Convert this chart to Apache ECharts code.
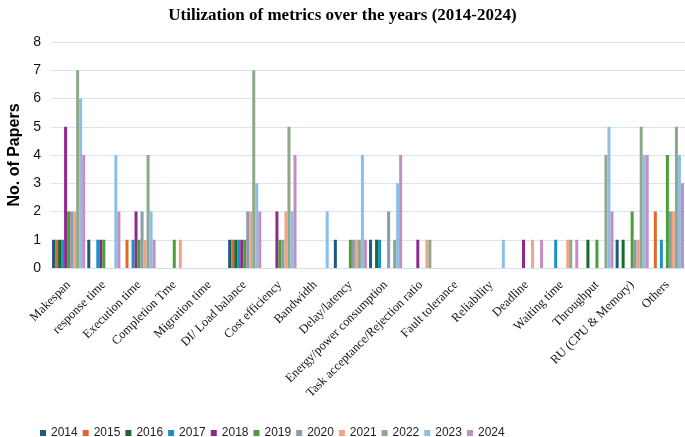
<!DOCTYPE html>
<html>
<head>
<meta charset="utf-8">
<script src="https://cdn.jsdelivr.net/npm/echarts@6/dist/echarts.min.js"></script>
<style>
html,body{margin:0;padding:0;background:#fff;}
#c{width:685px;height:437px;}
</style>
</head>
<body>
<div id="c"></div>
<script>
const categories = ["Makespan","response time","Execution time","Completion Tme","Migration time","DI/ Load balance","Cost efficiency","Bandwidth","Delay/latency","Energy/power consumption","Task acceptance/Rejection ratio","Fault tolerance","Reliability","Deadline","Waiting time","Throughput","RU (CPU & Memory)","Others"];
const years = ["2014","2015","2016","2017","2018","2019","2020","2021","2022","2023","2024"];
// values per category, columns = years 2014..2024
const makespan      = [1,1,1,1,5,2,2,2,7,6,4];
const responseTime  = [1,0,0,1,1,1,0,0,0,4,2];
const executionTime = [0,1,0,1,2,1,2,1,4,2,1];
const completionTme = [0,0,0,0,0,1,0,1,0,0,0];
const migrationTime = [0,0,0,0,0,0,0,0,0,0,0];
const loadBalance   = [1,1,1,1,1,1,2,2,7,3,2];
const costEff       = [0,0,0,0,2,1,1,2,5,2,4];
const bandwidth     = [0,0,0,0,0,0,0,0,0,2,0];
const delayLatency  = [1,0,0,0,0,1,1,1,1,4,1];
const energy        = [1,0,1,1,0,0,2,0,1,3,4];
const taskAccept    = [0,0,0,0,1,0,0,1,1,0,0];
const faultTol      = [0,0,0,0,0,0,0,0,0,0,0];
const reliability   = [0,0,0,0,0,0,0,0,0,1,0];
const deadline      = [0,0,0,0,1,0,0,1,0,0,1];
const waitingTime   = [0,0,0,1,0,0,0,1,1,0,1];
const throughput    = [0,0,1,0,0,1,0,0,4,5,2];
const ru            = [1,0,1,0,0,2,1,1,5,4,4];
const others        = [0,2,0,1,0,4,2,2,5,4,3];
const yTicks = [0,1,2,3,4,5,6,7,8];

const rows = [makespan,responseTime,executionTime,completionTme,migrationTime,loadBalance,costEff,bandwidth,delayLatency,energy,taskAccept,faultTol,reliability,deadline,waitingTime,throughput,ru,others];
const colors = ['#1d5a7c','#e0692a','#1b6a2c','#1a92c6','#8e2a8c','#4c9f34','#8b9cab','#f3a488','#8fa78b','#8dbfe6','#c38fc2'];

const series = years.map((y,k)=>({
  name:y, type:'bar', barGap:'0%', barCategoryGap:'6%',
  data: rows.map(r=>r[k]),
  itemStyle:{color:colors[k]}
}));

const chart = echarts.init(document.getElementById('c'),null,{renderer:'canvas'});
chart.setOption({
  animation:false,
  color:colors,
  title:{text:'Utilization of metrics over the years (2014-2024)',left:'center',top:2,
    textStyle:{fontFamily:'Liberation Serif',fontWeight:'bold',fontSize:17,color:'#000'}},
  grid:{left:51,right:0,top:42,bottom:169,containLabel:false,outerBoundsMode:'none'},
  legend:{data:years,top:427,left:40,itemWidth:6,itemHeight:6,itemGap:5,icon:'rect',padding:0,
    textStyle:{fontFamily:'Liberation Sans',fontSize:12,color:'#222'}},
  xAxis:{type:'category',data:categories,
    axisLine:{lineStyle:{color:'#cfe0f3'}},axisTick:{show:false},
    axisLabel:{interval:0,rotate:45,margin:15,fontFamily:'Liberation Serif',fontSize:12.5,color:'#111'}},
  yAxis:{type:'value',min:yTicks[0],max:yTicks[yTicks.length-1],interval:1,
    name:'No. of Papers',nameLocation:'middle',nameGap:28,
    nameTextStyle:{fontFamily:'Liberation Sans',fontWeight:'bold',fontSize:16,color:'#000'},
    axisLabel:{fontFamily:'Liberation Sans',fontSize:14,color:'#111',margin:10},
    splitLine:{lineStyle:{color:'#d6e5f5',width:1.2}},
    axisLine:{show:false},axisTick:{show:false}},
  series:series
});
</script>
</body>
</html>
